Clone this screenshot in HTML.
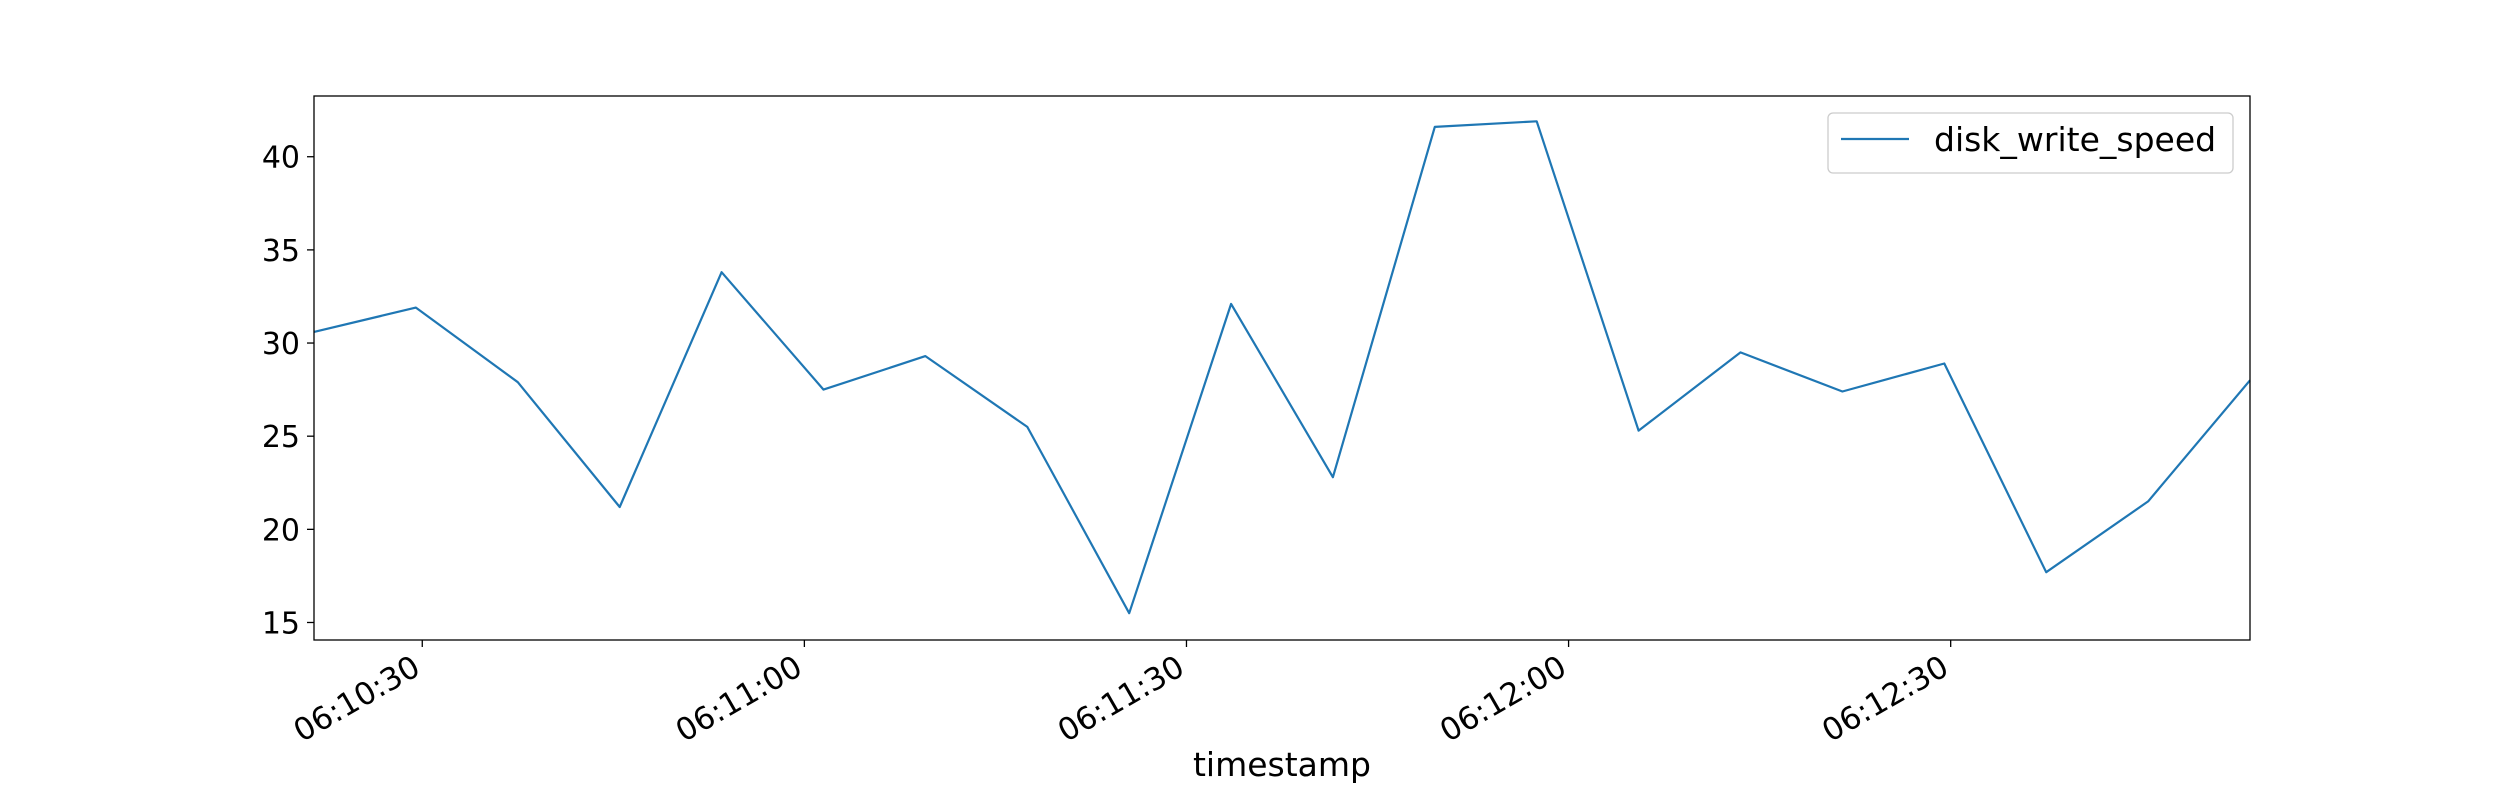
<!DOCTYPE html>
<html><head><meta charset="utf-8"><style>
html,body{margin:0;padding:0;background:#fff;}
svg{display:block;font-family:"DejaVu Sans","Liberation Sans",sans-serif;}
</style></head><body>
<svg id="chart" width="2500" height="800" viewBox="0 0 2500 800" xmlns="http://www.w3.org/2000/svg">
<rect x="0" y="0" width="2500" height="800" fill="#fff"/>
<g id="ticks"></g>
<path id="series" fill="none" stroke="#1f77b4" stroke-width="2.2" stroke-linejoin="round"/>
<rect x="314" y="96" width="1936" height="544" fill="none" stroke="#000" stroke-width="1.3"/>
<text x="1282" y="776" font-size="33" text-anchor="middle">timestamp</text>
<g>
<rect x="1828" y="113" width="405" height="60" rx="5" fill="#fff" stroke="#ccc" stroke-width="1.3"/>
<line x1="1841" y1="139" x2="1909" y2="139" stroke="#1f77b4" stroke-width="2.2"/>
<text x="1934" y="151" font-size="33">disk_write_speed</text>
</g>
</svg>
<script>
const seconds = [21.5,29.5,37.5,45.5,53.5,61.5,69.5,77.5,85.5,93.5,101.5,109.5,117.5,125.5,133.5,141.5,149.5,157.5,165.5,173.5];
const values = [30.6,31.9,27.9,21.2,33.8,27.5,29.3,25.5,15.5,32.1,22.8,41.6,41.9,25.3,29.5,27.4,28.9,17.7,21.5,28.0];
const xTicks = [30,60,90,120,150];
const xTickLabels = ["06:10:30","06:11:00","06:11:30","06:12:00","06:12:30"];
const yTicks = [15,20,25,30,35,40];
const L=314,R=2250,T=96,B=640;
const xmin=seconds[0], xmax=seconds[seconds.length-1];
const ymin=14.06, ymax=43.26;
const sx=v=>L+(v-xmin)/(xmax-xmin)*(R-L);
const sy=v=>B-(v-ymin)/(ymax-ymin)*(B-T);
const NS="http://www.w3.org/2000/svg";
const g=document.getElementById('ticks');
function mk(tag,attrs){const e=document.createElementNS(NS,tag);for(const k in attrs)e.setAttribute(k,attrs[k]);return e;}
yTicks.forEach(v=>{
  const y=sy(v);
  const t=mk('line',{x1:L-7,x2:L,y1:y,y2:y,stroke:'#000','stroke-width':1.3});
  
  
  g.appendChild(t);
  const tx=mk('text',{x:L-14,y:y+11,'font-size':30,'text-anchor':'end'});
  
  
  tx.textContent=v;g.appendChild(tx);
});
xTicks.forEach((v,i)=>{
  const x=sx(v);
  const t=mk('line',{x1:x,x2:x,y1:B,y2:B+7,stroke:'#000','stroke-width':1.3});
  
  
  g.appendChild(t);
  const tx=mk('text',{x:x,y:673,'font-size':31,'text-anchor':'end',transform:`rotate(-30 ${x} 673)`});
  
  
  tx.textContent=xTickLabels[i];g.appendChild(tx);
});
document.getElementById('series').setAttribute('d',seconds.map((s,i)=>(i?'L':'M')+sx(s).toFixed(1)+' '+sy(values[i]).toFixed(1)).join(' '));
</script>
</body></html>
